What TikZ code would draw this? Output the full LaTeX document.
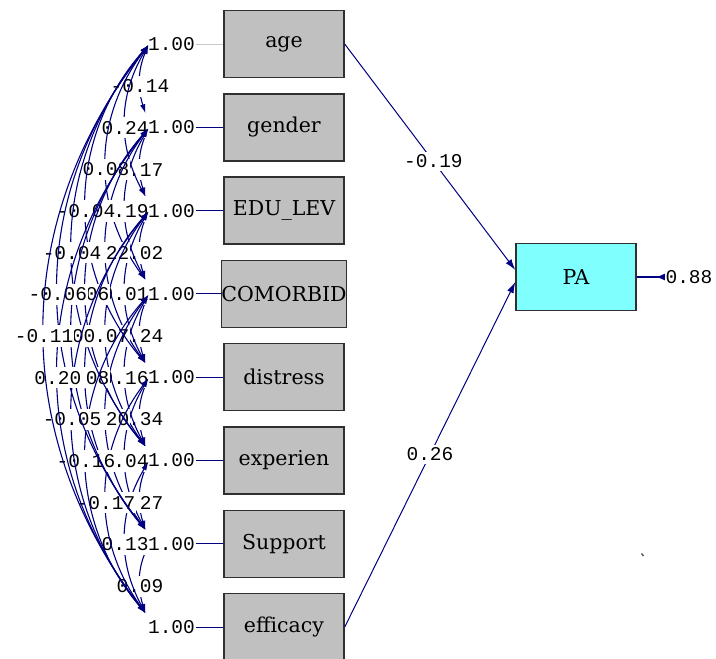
\documentclass[tikz,border=0pt]{standalone}
\usepackage{fontspec}
\usetikzlibrary{arrows.meta}
\newfontfamily\boxfam{DejaVu Serif}
\newfontfamily\monofam{Liberation Mono}
\definecolor{lisnavy}{RGB}{0,0,128}
\definecolor{boxgray}{RGB}{192,192,192}
\definecolor{boxedge}{RGB}{48,48,48}
\definecolor{endocyan}{RGB}{128,255,255}
\definecolor{faintline}{RGB}{200,200,200}
\tikzset{
  obs/.style={draw=boxedge, fill=boxgray, line width=1.4pt, minimum width=120pt,
    minimum height=67pt, inner sep=0pt, font=\boxfam\fontsize{20.5}{22}\selectfont},
  endo/.style={obs, fill=endocyan},
  num/.style={font=\monofam\fontsize{19.5}{20}\selectfont, inner sep=0.5pt, text=black},
  clab/.style={num, fill=white, inner xsep=0.5pt, inner ysep=4pt},
  plab/.style={num, fill=white, inner sep=3pt},
  cov/.style={lisnavy, line width=1.1pt,
    {Latex[length=9pt,width=5.5pt]}-{Latex[length=9pt,width=5.5pt]}},
  effect/.style={lisnavy, line width=1pt, -{Latex[length=11pt,width=7pt]}},
  varline/.style={lisnavy, line width=1pt},
}
\begin{document}
\begin{tikzpicture}[x=1pt,y=-1pt]
\useasboundingbox (0,0) rectangle (716,659);
\clip (0,0) rectangle (716,659);

% observed variables
\node[obs] (age)      at (284,44.0)  {age};
\node[obs] (gender)   at (284,127.3) {gender};
\node[obs] (edu)      at (284,210.6) {EDU\_LEV};
\node[obs] (comorb)   at (284,293.9) {COMORBID};
\node[obs] (distress) at (284,377.2) {distress};
\node[obs] (exper)    at (284,460.5) {experien};
\node[obs] (support)  at (284,543.8) {Support};
\node[obs] (eff)      at (284,627.1) {efficacy};
\node[endo] (pa)      at (576,277)   {PA};

% variances
\foreach \k/\yy in {1/44.0,2/127.3,3/210.6,4/293.9,5/377.2,6/460.5,7/543.8,8/627.1}{
  \node[num] (v\k) at (171.5,\yy) {1.00};
  \coordinate (t\k) at ([shift={(-23,1)}]v\k.center);
  \coordinate (b\k) at ([shift={(-26,-14)}]v\k.center);
}
\draw[faintline, line width=1pt] (v1.east) -- (age.west);
\draw[varline] (v2.east) -- (gender.west);
\draw[varline] (v3.east) -- (edu.west);
\draw[varline] (v4.east) -- (comorb.west);
\draw[varline] (v5.east) -- (distress.west);
\draw[varline] (v6.east) -- (exper.west);
\draw[varline] (v7.east) -- (support.west);
\draw[varline] (v8.east) -- (eff.west);

% correlations among the exogenous variables, inner arcs first
\foreach \i/\j/\ang/\lab in {
  1/2/20.5/-0.14, 2/3/20.5/0.17, 3/4/20.5/0.02, 4/5/20.5/0.24,
  5/6/20.5/0.34, 6/7/20.5/0.27, 7/8/20.5/0.09,
  1/3/29.5/0.24, 2/4/29.5/0.19, 3/5/29.5/0.01, 4/6/29.5/0.16,
  5/7/29.5/0.04, 6/8/29.5/0.13,
  1/4/36.5/0.08, 2/5/36.5/0.22, 3/6/36.5/0.07, 4/7/36.5/0.20, 5/8/36.5/-0.17,
  1/5/40.8/-0.04, 2/6/40.8/0.06, 3/7/40.8/0.08, 4/8/40.8/-0.16,
  1/6/39.5/-0.04, 2/7/39.5/0.00, 3/8/39.5/-0.05,
  1/7/38.8/-0.06, 2/8/38.8/0.20,
  1/8/38.1/-0.11}{
  \draw[cov] (t\i) to[bend right=\ang] node[clab, yshift=-7.5pt] {\lab} (b\j);
}

% structural paths
\draw[effect] (age.east) -- node[plab, pos=0.52] {-0.19} ([yshift=7pt]pa.west);
\draw[effect] (eff.east) -- node[plab, pos=0.5] {0.26} ([yshift=-5pt]pa.west);

% error variance of PA
\node[num] (err) at (689,277) {0.88};
\draw[lisnavy, line width=1.3pt, -{Latex[reversed,length=9pt,width=7pt]}] (pa.east) -- (err.west);

% small speck
\draw[black!70, line width=1.3pt] (641.5,553.5) -- (643.5,556);
\end{tikzpicture}
\end{document}
